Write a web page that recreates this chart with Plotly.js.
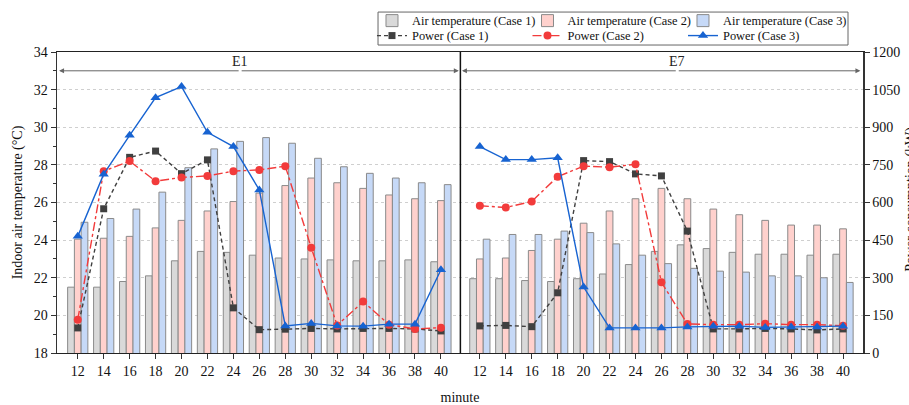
<!DOCTYPE html>
<html>
<head>
<meta charset="utf-8">
<script src="https://cdn.plot.ly/plotly-3.0.1.min.js"></script>
<style>
  html, body { margin: 0; padding: 0; background: #fff; }
  #chart { width: 909px; height: 405px; }
</style>
</head>
<body>
<div id="chart"></div>
<script>
// Sampling times (minutes) shared by both zones
const minutes = [12, 14, 16, 18, 20, 22, 24, 26, 28, 30, 32, 34, 36, 38, 40];

// Zone E1 - indoor air temperature (°C)
const airCase1E1 = [21.5, 21.5, 21.8, 22.1, 22.9, 23.4, 23.35, 23.2, 23.05, 23.0, 22.95, 22.9, 22.9, 22.95, 22.85];
const airCase2E1 = [24.05, 24.1, 24.2, 24.65, 25.05, 25.55, 26.05, 26.5, 26.9, 27.3, 27.05, 26.75, 26.4, 26.2, 26.1];
const airCase3E1 = [24.95, 25.15, 25.65, 26.55, 27.85, 28.85, 29.25, 29.45, 29.15, 28.35, 27.9, 27.55, 27.3, 27.05, 26.95];

// Zone E7 - indoor air temperature (°C)
const airCase1E7 = [21.95, 21.95, 21.85, 21.8, 21.95, 22.2, 22.7, 23.4, 23.75, 23.55, 23.35, 23.25, 23.25, 23.2, 23.25];
const airCase2E7 = [23.0, 23.05, 23.45, 24.05, 24.9, 25.55, 26.2, 26.75, 26.2, 25.65, 25.35, 25.05, 24.8, 24.8, 24.6];
const airCase3E7 = [24.05, 24.3, 24.3, 24.48, 24.4, 23.8, 23.2, 22.75, 22.5, 22.35, 22.3, 22.1, 22.1, 22.0, 21.75];

// Zone E1 - power (kW)
const powerCase1E1 = [100, 575, 780, 805, 715, 770, 180, 93, 95, 98, 96, 98, 98, 96, 88];
const powerCase2E1 = [133, 725, 765, 685, 700, 706, 725, 730, 745, 420, 110, 205, 113, 96, 101];
const powerCase3E1 = [465, 713, 868, 1018, 1062, 880, 823, 650, 108, 118, 108, 107, 115, 115, 332];

// Zone E7 - power (kW)
const powerCase1E7 = [108, 110, 105, 240, 767, 763, 714, 706, 486, 96, 96, 98, 96, 92, 96];
const powerCase2E7 = [587, 580, 604, 703, 745, 741, 752, 282, 116, 113, 113, 117, 113, 113, 109];
const powerCase3E7 = [823, 771, 771, 778, 263, 100, 100, 100, 104, 107, 107, 102, 104, 104, 107];

const zoneNames = ['E1', 'E7'];

// Category slots: E1 occupies 0..14, E7 follows after a 1.5-slot gap
const zoneGap = 1.5;
const e1Pos = minutes.map((m, i) => i);
const e7Pos = minutes.map((m, i) => i + minutes.length - 1 + zoneGap);
const barX = e1Pos.concat(e7Pos);
const lineX = e1Pos.concat([null], e7Pos);
const tickText = minutes.concat(minutes).map(String);
const dividerX = (e1Pos[e1Pos.length - 1] + e7Pos[0]) / 2;

const SERIF = 'Liberation Serif, Times New Roman, Times, serif';
const barW = 0.26;

function barTrace(name, e1, e7, fill, offset, extra) {
  return Object.assign({
    type: 'bar', name: name, legend: 'legend',
    x: barX, y: e1.concat(e7),
    width: barW, offset: offset,
    marker: { color: fill, line: { color: '#8a8a8a', width: 1 } },
    yaxis: 'y', hoverinfo: 'x+y'
  }, extra || {});
}

function lineTrace(name, e1, e7, color, dash, symbol, size, extra) {
  return Object.assign({
    type: 'scatter', mode: 'lines+markers', name: name, legend: 'legend2',
    x: lineX, y: e1.concat([null], e7), connectgaps: false,
    line: { color: color, width: 1.4, dash: dash },
    marker: { color: color, symbol: symbol, size: size },
    yaxis: 'y2'
  }, extra || {});
}

const traces = [
  barTrace('Air temperature (Case 1)', airCase1E1, airCase1E7, '#d9d9d9', -1.5 * barW),
  barTrace('Air temperature (Case 2)', airCase2E1, airCase2E7, '#ffd1cd', -0.5 * barW),
  barTrace('Air temperature (Case 3)', airCase3E1, airCase3E7, '#c6d9f7', 0.5 * barW, { legendwidth: 135 }),
  lineTrace('Power (Case 1)', powerCase1E1, powerCase1E7, '#404040', '4px,3px', 'square', 7),
  lineTrace('Power (Case 2)', powerCase2E1, powerCase2E7, '#f23b3b', 'dashdot', 'circle', 8),
  lineTrace('Power (Case 3)', powerCase3E1, powerCase3E7, '#1763d1', 'solid', 'triangle-up', 9, { legendwidth: 135 })
];

// Zone extent arrows and labels along the top of the plot
const arrowY = 33;
const zoneBounds = [[-0.72, dividerX - 0.06], [dividerX + 0.06, 30.17]];
const labelX = [6.26, 23.11];
const annotations = [];
zoneBounds.forEach((b, k) => {
  const mid = labelX[k];
  b.forEach(end => {
    annotations.push({
      xref: 'x', yref: 'y', axref: 'x', ayref: 'y',
      x: end, y: arrowY, ax: mid, ay: arrowY,
      text: '', showarrow: true, arrowhead: 2, arrowsize: 1,
      arrowwidth: 1, arrowcolor: '#666', standoff: 0, startstandoff: 0
    });
  });
  annotations.push({
    xref: 'x', yref: 'y', x: mid, y: 33.5, text: zoneNames[k],
    showarrow: false, font: { family: SERIF, size: 14, color: '#222' }
  });
});

// Right-hand axis title, set at the outer edge of the figure
annotations.push({
  xref: 'paper', yref: 'paper', x: 1.0596, y: 0.509,
  xanchor: 'center', yanchor: 'middle', textangle: -90,
  text: 'Power consumption (kW)', showarrow: false,
  font: { family: SERIF, size: 14, color: '#111' }
});

const legendCommon = {
  orientation: 'h', traceorder: 'normal',
  entrywidth: 110.5, entrywidthmode: 'pixels',
  x: 0.3908, xanchor: 'left', yanchor: 'middle',
  bgcolor: 'rgba(0,0,0,0)', borderwidth: 0,
  font: { family: SERIF, size: 12.4, color: '#111' }
};

const layout = {
  width: 909, height: 405,
  margin: { l: 57, r: 46, t: 52, b: 51.5, autoexpand: false },
  paper_bgcolor: '#ffffff', plot_bgcolor: '#ffffff',
  font: { family: SERIF, size: 14, color: '#111' },
  barmode: 'overlay',
  showlegend: true,
  xaxis: {
    range: [-0.8, 30.27], tickmode: 'array', tickvals: barX, ticktext: tickText,
    ticks: 'outside', ticklen: 5, tickcolor: '#333',
    showline: true, linecolor: '#222', linewidth: 1.2, mirror: true,
    showgrid: false, zeroline: false,
    title: { text: 'minute', standoff: 14, font: { family: SERIF, size: 14 } }
  },
  yaxis: {
    range: [18, 34], tick0: 18, dtick: 2,
    ticks: 'outside', ticklen: 5, tickcolor: '#333',
    showline: true, linecolor: '#333', linewidth: 1.5,
    showgrid: true, gridcolor: '#cfcfcf', griddash: 'dot', gridwidth: 1,
    zeroline: false,
    minor: { dtick: 1, ticks: 'outside', ticklen: 3, tickcolor: '#333', showgrid: false },
    title: { text: 'Indoor air temperature (°C)', standoff: 8, font: { family: SERIF, size: 14 } }
  },
  yaxis2: {
    overlaying: 'y', side: 'right', range: [0, 1200], tick0: 0, dtick: 150,
    ticks: 'outside', ticklen: 5, tickcolor: '#333',
    showline: true, linecolor: '#333', linewidth: 1.5,
    showgrid: false, zeroline: false
  },
  legend: Object.assign({}, legendCommon, { y: 1.1028 }),
  legend2: Object.assign({}, legendCommon, { y: 1.0531 }),
  shapes: [
    {
      type: 'line', xref: 'x', yref: 'paper',
      x0: dividerX, x1: dividerX, y0: 0, y1: 1,
      line: { color: '#111', width: 1.5 }
    },
    {
      // frame around the two legend rows
      type: 'rect', xref: 'paper', yref: 'paper',
      x0: 0.3983, x1: 0.9814, y0: 1.0232, y1: 1.1327,
      line: { color: '#666', width: 1 }, fillcolor: 'rgba(0,0,0,0)'
    }
  ],
  annotations: annotations
};

Plotly.newPlot('chart', traces, layout, { displayModeBar: false, staticPlot: true });
</script>
</body>
</html>
